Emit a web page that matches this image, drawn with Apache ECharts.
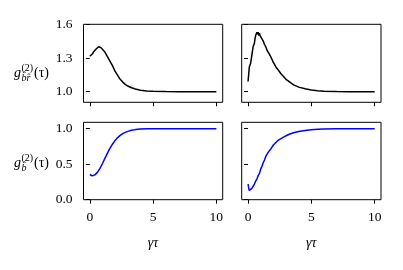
<!DOCTYPE html>
<html><head><meta charset="utf-8">
<script src="https://cdn.jsdelivr.net/npm/echarts@6/dist/echarts.min.js"></script>
<style>html,body{margin:0;padding:0;background:#fff}#c{width:403px;height:270px}</style>
</head><body><div id="c"></div><script>
// ---- data ----
const tauTopLeft = [0,0.1,0.2,0.3,0.4,0.5,0.6,0.7,0.8,0.9,1.0,1.2,1.4,1.6,1.8,2.0,2.2,2.4,2.6,2.8,3.0,3.3,3.6,4.0,4.5,5.0,6,7,8,9,10];
const gTopLeft   = [1.315,1.33,1.335,1.355,1.37,1.38,1.395,1.40,1.40,1.39,1.38,1.35,1.31,1.27,1.23,1.18,1.145,1.11,1.085,1.065,1.05,1.035,1.023,1.013,1.006,1.003,1.001,1.0,1.0,1.0,1.0];
const tauTopRight = [0,0.05,0.1,0.15,0.2,0.3,0.35,0.4,0.45,0.5,0.55,0.6,0.65,0.7,0.75,0.8,0.85,0.9,0.95,1.0,1.1,1.2,1.3,1.4,1.5,1.6,1.8,2.0,2.2,2.4,2.6,2.8,3.0,3.3,3.6,4.0,4.5,5.0,5.5,6,7,8,9,10];
const gTopRight   = [1.09,1.15,1.22,1.21,1.25,1.25,1.36,1.40,1.41,1.43,1.47,1.50,1.49,1.53,1.51,1.53,1.50,1.52,1.50,1.49,1.47,1.45,1.42,1.40,1.37,1.35,1.31,1.26,1.22,1.19,1.16,1.135,1.11,1.085,1.06,1.04,1.025,1.015,1.008,1.004,1.001,1.0,1.0,1.0];
const tauBottomLeft = [0,0.1,0.2,0.3,0.4,0.5,0.6,0.7,0.8,0.9,1.0,1.2,1.4,1.6,1.8,2.0,2.2,2.4,2.6,2.8,3.0,3.3,3.6,4.0,4.5,5,6,7,8,9,10];
const gBottomLeft   = [0.355,0.34,0.335,0.34,0.35,0.365,0.385,0.41,0.44,0.475,0.51,0.585,0.66,0.725,0.785,0.835,0.875,0.905,0.93,0.948,0.962,0.977,0.987,0.994,0.998,1.0,1.0,1.0,1.0,1.0,1.0];
const tauBottomRight = [0,0.05,0.1,0.15,0.2,0.3,0.4,0.5,0.6,0.7,0.8,0.9,1.0,1.1,1.2,1.3,1.4,1.5,1.6,1.8,2.0,2.2,2.4,2.6,2.8,3.0,3.3,3.6,4.0,4.5,5.0,5.5,6,7,8,9,10];
const gBottomRight   = [0.22,0.17,0.13,0.12,0.14,0.16,0.18,0.22,0.26,0.29,0.34,0.37,0.43,0.47,0.52,0.56,0.61,0.635,0.67,0.715,0.77,0.805,0.84,0.86,0.88,0.90,0.925,0.943,0.96,0.975,0.985,0.991,0.995,0.998,1.0,1.0,1.0];
const xTicks = [0,5,10];
const yTicksTop = [1.0,1.3,1.6];
const yTicksBottom = [0.0,0.5,1.0];
const xLabel = 'γτ';
const yLabelTop = {sub: 'b̂r̂', sup: '(2)'};
const yLabelBottom = {sub: 'b̂', sup: '(2)'};

// ---- chart ----
const FONT = 'Liberation Serif';
const pairs = (xs, ys) => xs.map((x, i) => [x, ys[i]]);
const grids = [
  {left: 83.5, top: 24.3, width: 139.2, height: 78},
  {left: 241.7, top: 24.3, width: 139.3, height: 78},
  {left: 83.5, top: 122.3, width: 139.2, height: 77.4},
  {left: 241.7, top: 122.3, width: 139.3, height: 77.4}
].map(g => Object.assign(g, {show: true, borderColor: '#000', borderWidth: 1, backgroundColor: 'transparent'}));

function xAxis(i, showLabels) {
  return {
    type: 'value', gridIndex: i, min: -0.5, max: 10.5,
    splitLine: {show: false},
    axisLine: {show: false},
    axisTick: {show: true, inside: false, length: 4, customValues: xTicks, lineStyle: {color: '#000', width: 1}},
    axisLabel: {show: showLabels, customValues: xTicks, margin: 11, color: '#000', fontFamily: FONT, fontSize: 13.5},
    name: showLabels ? xLabel : '', nameLocation: 'middle', nameGap: 37,
    nameTextStyle: {color: '#000', fontFamily: FONT, fontSize: 14, fontStyle: 'italic'}
  };
}
function yAxis(i, min, max, ticks, showLabels) {
  return {
    type: 'value', gridIndex: i, min: min, max: max,
    splitLine: {show: false},
    axisLine: {show: false},
    axisTick: {show: true, inside: false, length: 4, customValues: ticks, lineStyle: {color: '#000', width: 1}},
    axisLabel: {show: showLabels, customValues: ticks, margin: 11, color: '#000', fontFamily: FONT, fontSize: 13.5,
      formatter: v => v.toFixed(1)}
  };
}
// y-axis titles: g^(2)_sub(τ) built from text pieces
function yName(x0, cy, lab) {
  const t = (txt, x, y, size, italic) => ({
    type: 'text', x: x, y: y, silent: true,
    style: {text: txt, font: (italic ? 'italic ' : '') + size + 'px "' + FONT + '"', fill: '#000',
      textAlign: 'left', textVerticalAlign: 'middle'}
  });
  return [
    t('g', x0, cy, 14, true),
    t(lab.sup, x0 + 7.5, cy - 5, 10, false),
    t(lab.sub, x0 + 7.5, cy + 5, 10, true),
    t('(τ)', x0 + 20, cy, 14, false)
  ];
}
const series = [
  {data: pairs(tauTopLeft, gTopLeft), color: '#000', idx: 0},
  {data: pairs(tauTopRight, gTopRight), color: '#000', idx: 1},
  {data: pairs(tauBottomLeft, gBottomLeft), color: '#0000ff', idx: 2},
  {data: pairs(tauBottomRight, gBottomRight), color: '#0000ff', idx: 3}
].map(s => ({
  type: 'line', xAxisIndex: s.idx, yAxisIndex: s.idx, data: s.data, showSymbol: false,
  lineStyle: {color: s.color, width: 1.5}, animation: false, silent: true
}));

const chart = echarts.init(document.getElementById('c'), null, {renderer: 'canvas'});
chart.setOption({
  animation: false,
  backgroundColor: '#fff',
  grid: grids,
  xAxis: [xAxis(0, false), xAxis(1, false), xAxis(2, true), xAxis(3, true)],
  yAxis: [
    yAxis(0, 0.905, 1.6, yTicksTop, true),
    yAxis(1, 0.905, 1.6, yTicksTop, false),
    yAxis(2, 0, 1.09, yTicksBottom, true),
    yAxis(3, 0, 1.09, yTicksBottom, false)
  ],
  series: series,
  graphic: yName(14, 73, yLabelTop).concat(yName(14, 163, yLabelBottom))
});
</script></body></html>
